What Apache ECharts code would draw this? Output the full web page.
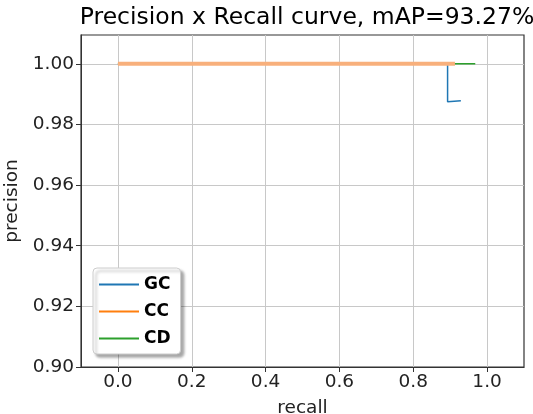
<!DOCTYPE html>
<html><head><meta charset="utf-8">
<script src="https://cdn.jsdelivr.net/npm/echarts@6/dist/echarts.min.js"></script>
<style>html,body{margin:0;padding:0;background:#fff}#c{width:533px;height:414px}</style>
</head><body><div id="c"></div>
<script>
const titleText = 'Precision x Recall curve, mAP=93.27%';
const seriesNames = ['GC', 'CC', 'CD'];
const gcRecall = [0.0, 0.893, 0.893, 0.929];
const gcPrecision = [1.0, 1.0, 0.9875, 0.9878];
const ccRecall = [0.0, 0.913];
const ccPrecision = [1.0, 1.0];
const cdRecall = [0.0, 0.968];
const cdPrecision = [1.0, 1.0];
const xTicks = [0.0, 0.2, 0.4, 0.6, 0.8, 1.0];
const yTicks = [0.90, 0.92, 0.94, 0.96, 0.98, 1.00];

const pairs = (xs, ys) => xs.map((x, i) => [x, ys[i]]);
const font = 'DejaVu Sans';
const chart = echarts.init(document.getElementById('c'));
chart.setOption({
  animation: false,
  title: { text: titleText, left: 302, top: 1, textAlign: 'center',
    textStyle: { fontFamily: font, fontSize: 23.5, fontWeight: 'normal', color: '#000' } },
  grid: { left: 81, right: 9, top: 35, bottom: 47, show: true, borderColor: '#333', borderWidth: 1.2,
    outerBoundsMode: 'none', containLabel: false },
  legend: {
    left: 93, top: 268, orient: 'vertical', itemGap: 10, itemWidth: 40, itemHeight: 12,
    padding: [8, 10, 7, 6],
    backgroundColor: '#fff', borderColor: '#ccc', borderWidth: 1, borderRadius: 4,
    shadowColor: 'rgba(0,0,0,0.35)', shadowBlur: 3, shadowOffsetX: 3, shadowOffsetY: 3,
    data: seriesNames.map(n => ({ name: n, icon: 'path://M0,5 L40,5 L40,7 L0,7 Z' })),
    textStyle: { fontFamily: font, fontSize: 17, fontWeight: 'bold', color: '#000' }
  },
  xAxis: {
    type: 'value', min: -0.1, max: 1.1,
    name: 'recall', nameLocation: 'middle', nameGap: 32,
    nameTextStyle: { fontFamily: font, fontSize: 18.5, color: '#222' },
    axisLine: { show: true, onZero: false, lineStyle: { color: '#333' } },
    axisTick: { show: true, length: 5, customValues: xTicks, lineStyle: { color: '#333' } },
    axisLabel: { fontFamily: font, fontSize: 18.5, color: '#222', margin: 6, customValues: xTicks,
      formatter: v => v.toFixed(1) },
    splitLine: { show: true, lineStyle: { color: '#c8c8c8', width: 1 } }
  },
  yAxis: {
    type: 'value', min: 0.9, max: 1.0095,
    name: 'precision', nameLocation: 'middle', nameGap: 58,
    nameTextStyle: { fontFamily: font, fontSize: 18.5, color: '#222' },
    axisLine: { show: true, onZero: false, lineStyle: { color: '#333' } },
    axisTick: { show: true, length: 5, customValues: yTicks, lineStyle: { color: '#333' } },
    axisLabel: { fontFamily: font, fontSize: 18.5, color: '#222', margin: 7, customValues: yTicks,
      formatter: v => v.toFixed(2) },
    splitLine: { show: true, lineStyle: { color: '#c8c8c8', width: 1 } }
  },
  series: [
    { name: 'GC', type: 'line', data: pairs(gcRecall, gcPrecision), showSymbol: false, z: 2,
      lineStyle: { color: '#1f77b4', width: 1.5 }, itemStyle: { color: '#1f77b4' } },
    { name: 'CD', type: 'line', data: pairs(cdRecall, cdPrecision), showSymbol: false, z: 3,
      lineStyle: { color: '#2ca02c', width: 1.5 }, itemStyle: { color: '#2ca02c' } },
    { name: 'CC', type: 'line', data: pairs(ccRecall, ccPrecision), showSymbol: false, z: 4,
      lineStyle: { color: '#f8b07c', width: 4 }, itemStyle: { color: '#ff7f0e' } }
  ]
});
</script></body></html>
